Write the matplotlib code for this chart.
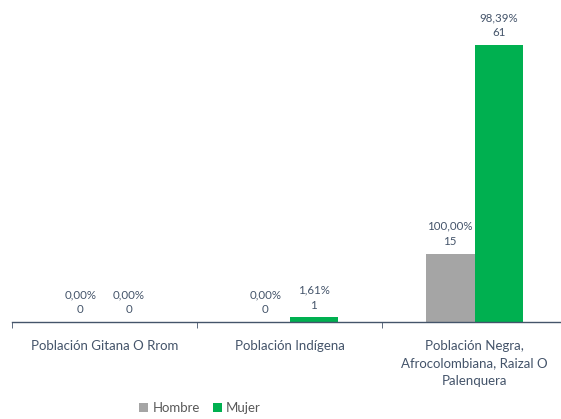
import numpy as np
import matplotlib.pyplot as plt

# Datos
categorias = ["Población Gitana O Rrom", "Población Indígena",
              "Población Negra,\nAfrocolombiana, Raizal O\nPalenquera"]
hombre = [0, 0, 15]
mujer = [0, 1, 61]
pct_hombre = ["0,00%", "0,00%", "100,00%"]
pct_mujer = ["0,00%", "1,61%", "98,39%"]

color_txt = "#44546A"
plt.rcParams['font.family'] = ['Lato', 'DejaVu Sans']

fig = plt.figure(figsize=(5.61, 4.19), dpi=100)
ax = fig.add_axes([12 / 561, 97 / 419, 555 / 561, 322 / 419])

x = np.arange(len(categorias))
ancho = 0.262

b1 = ax.bar(x - ancho / 2, hombre, ancho, color="#A5A5A5", label="Hombre")
b2 = ax.bar(x + ancho / 2, mujer, ancho, color="#00B050", label="Mujer")

# Etiquetas de cada barra (porcentaje y valor)
for barras, pcts, vals in [(b1, pct_hombre, hombre), (b2, pct_mujer, mujer)]:
    for b, p, v in zip(barras, pcts, vals):
        ax.annotate(f"{p}\n{v}", (b.get_x() + b.get_width() / 2, b.get_height()),
                    xytext=(0, 5), textcoords="offset points",
                    ha="center", va="bottom", fontsize=8.3, color=color_txt,
                    linespacing=1.45)

ax.set_xlim(-0.5, 2.5)
ax.set_ylim(0, 70.9)
ax.set_yticks([])
ax.set_xticks(x)
ax.set_xticklabels(categorias, fontsize=9.5, color=color_txt, linespacing=1.55)
ax.set_xticks([-0.5, 0.5, 1.5, 2.5], minor=True)
ax.tick_params(axis='x', which='major', length=0, pad=13)
ax.tick_params(axis='x', which='minor', length=4, color=color_txt, direction='out')

for lado in ["top", "right", "left"]:
    ax.spines[lado].set_visible(False)
ax.spines["bottom"].set_color(color_txt)
ax.spines["bottom"].set_linewidth(1.0)

fig.legend(handles=[b1, b2], loc="center", bbox_to_anchor=(200 / 561, 1 - 408 / 419),
           ncol=2, frameon=False, fontsize=9.5, handlelength=0.7, handleheight=0.7,
           handletextpad=0.3, columnspacing=1.0, labelcolor="#595959")

fig.savefig("out.png", dpi=100)
